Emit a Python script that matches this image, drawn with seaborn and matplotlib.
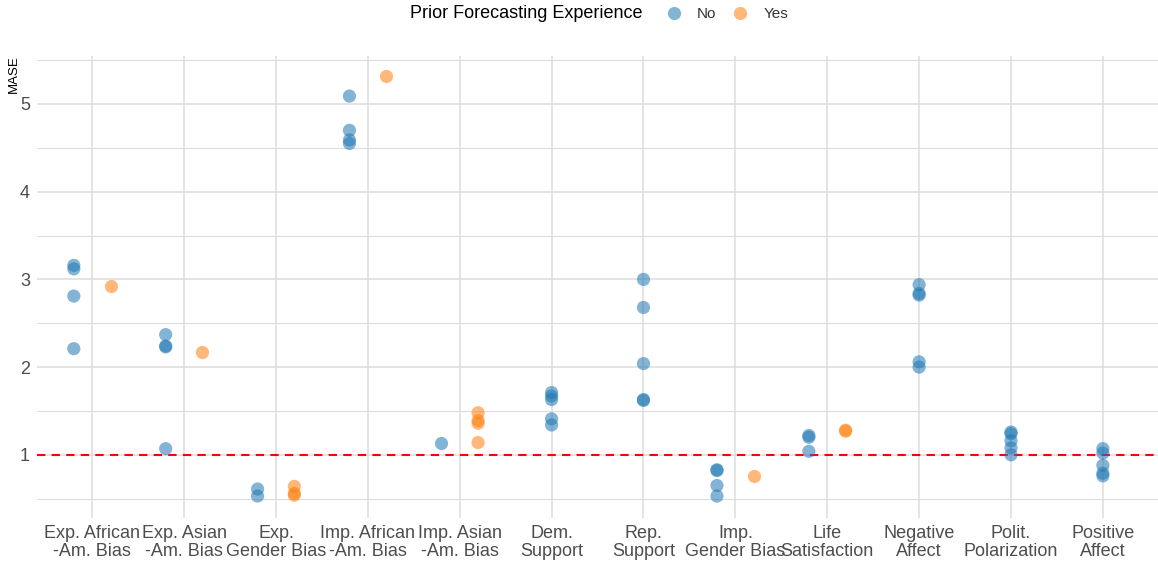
import numpy as np
import pandas as pd
import matplotlib
matplotlib.use("Agg")
import matplotlib.pyplot as plt
from matplotlib.lines import Line2D
from matplotlib.ticker import MultipleLocator
import seaborn as sns

categories = ["Exp. African\n-Am. Bias", "Exp. Asian\n-Am. Bias", "Exp.\nGender Bias",
              "Imp. African\n-Am. Bias", "Imp. Asian\n-Am. Bias", "Dem.\nSupport",
              "Rep.\nSupport", "Imp.\nGender Bias", "Life\nSatisfaction",
              "Negative\nAffect", "Polit.\nPolarization", "Positive\nAffect"]

no_values = [
    [3.16, 3.12, 2.81, 2.21],
    [2.37, 2.24, 2.23, 1.07],
    [0.61, 0.53],
    [5.09, 4.70, 4.59, 4.55],
    [1.14],
    [1.71, 1.67, 1.63, 1.41, 1.34],
    [3.00, 2.68, 2.04, 1.63, 1.62],
    [0.83, 0.82, 0.65, 0.53],
    [1.22, 1.20, 1.04],
    [2.94, 2.84, 2.82, 2.06, 2.00],
    [1.26, 1.24, 1.16, 1.08, 1.00],
    [1.07, 1.02, 0.88, 0.79, 0.76],
]
yes_values = [
    [2.92],
    [2.17],
    [0.64, 0.56, 0.54],
    [5.32],
    [1.48, 1.39, 1.36, 1.14],
    [],
    [],
    [0.76],
    [1.28, 1.27],
    [],
    [],
    [],
]
hue_levels = ["No", "Yes"]
legend_title = "Prior Forecasting Experience"
baseline = 1.0

rows = []
for cat, nv, yv in zip(categories, no_values, yes_values):
    for v in nv:
        rows.append((cat, "No", v))
    for v in yv:
        rows.append((cat, "Yes", v))
df = pd.DataFrame(rows, columns=["category", "experience", "MASE"])
both = {c for c, yv in zip(categories, yes_values) if len(yv) > 0}
df_dodge = df[df["category"].isin(both)]
df_single = df[~df["category"].isin(both)]

palette = {"No": "#1f77b4", "Yes": "#ff7f0e"}

sns.set_theme(style="whitegrid")
plt.rcParams["font.family"] = ["Liberation Sans", "DejaVu Sans"]

fig = plt.figure(figsize=(11.58, 5.63), dpi=100)
ax = fig.add_axes([0.032, 0.080, 0.968, 0.821])

common = dict(x="category", y="MASE", hue="experience", order=categories,
              hue_order=hue_levels, palette=palette, jitter=False, size=9.5,
              alpha=0.55, linewidth=0, legend=False, ax=ax)
sns.stripplot(data=df_dodge, dodge=True, **common)
sns.stripplot(data=df_single, dodge=False, **common)

ax.axhline(baseline, color="red", linestyle=(0, (4, 3)), linewidth=1.5, zorder=1)

ax.set_ylim(0.28, 5.55)
ax.set_xlim(-0.6, len(categories) - 0.4)
ax.yaxis.set_major_locator(MultipleLocator(1))
ax.yaxis.set_minor_locator(MultipleLocator(0.5))
ax.grid(True, which="major", color="#dcdcdc", linewidth=1.1)
ax.grid(True, which="minor", axis="y", color="#dcdcdc", linewidth=0.8)
ax.set_axisbelow(True)
for s in ax.spines.values():
    s.set_visible(False)
ax.tick_params(axis="both", which="both", length=0, labelsize=13, labelcolor="#4d4d4d")
ax.tick_params(axis="x", pad=5)
ax.tick_params(axis="y", pad=5)
for lbl in ax.get_xticklabels():
    lbl.set_linespacing(1.1)
ax.set_xlabel("")
ax.set_ylabel("MASE", loc="top", fontsize=9.5, color="black")
ax.yaxis.set_label_coords(-0.015, 1.0)

fig.text(643 / 1158, 1 - 14 / 563, legend_title, ha="right", va="center",
         fontsize=13, color="black")
handles = [Line2D([], [], marker="o", linestyle="", markersize=9.5, alpha=0.55,
                  markerfacecolor=palette[h], markeredgewidth=0) for h in hue_levels]
fig.legend(handles, hue_levels, loc="center left", bbox_to_anchor=(666 / 1158, 1 - 14 / 563),
           ncol=2, frameon=False, fontsize=11, handlelength=1.0, handletextpad=1.0,
           columnspacing=1.1, borderaxespad=0, borderpad=0, labelcolor="#333333")

fig.savefig("out.png", dpi=100)
